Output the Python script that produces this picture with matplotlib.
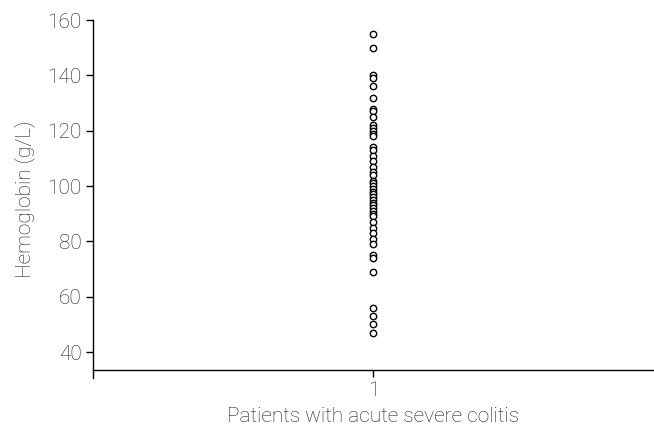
import numpy as np
import matplotlib
matplotlib.use('Agg')
import matplotlib.pyplot as plt

plt.rcParams['font.family'] = ['Roboto', 'DejaVu Sans']

# Hemoglobin values (g/L), one group
hemoglobin = [155, 150, 140, 139, 136, 132, 128, 127, 125, 122, 121, 120, 119, 118,
              114, 113, 111, 109, 107, 105, 104, 102, 101, 100, 99, 98, 97, 96, 95,
              94, 93, 92, 91, 90, 89, 87, 85, 83, 81, 79, 75, 74, 69, 56, 53, 50, 47]
group = 1
y_ticks = [40, 60, 80, 100, 120, 140, 160]

txt = '#1e1e1e'
fs = 15

fig = plt.figure(figsize=(6.54, 4.37), dpi=100)
ax = fig.add_axes([0.142, 0.135, 0.858, 0.819])

ax.plot([group] * len(hemoglobin), hemoglobin, linestyle='none', marker='o',
        markersize=4.6, markerfacecolor='white', markeredgecolor='black',
        markeredgewidth=1.0)

ax.set_xlim(0.5, 1.5)
ax.set_ylim(30.6, 160)
ax.set_xticks([group])
ax.set_xticklabels(['1'])
ax.set_yticks(y_ticks)

ax.spines['top'].set_visible(False)
ax.spines['right'].set_visible(False)
ax.spines['bottom'].set_position(('data', 33.4))
for s in ['left', 'bottom']:
    ax.spines[s].set_linewidth(1.0)

ax.tick_params(direction='out', length=5, width=1.0, labelsize=fs,
               labelcolor=txt, pad=3)

ax.set_ylabel('Hemoglobin (g/L)', fontsize=fs, color=txt, fontweight='light', labelpad=9)
ax.set_xlabel('Patients with acute severe colitis', fontsize=fs, color=txt,
              fontweight='light', labelpad=5)
for lab in ax.get_xticklabels() + ax.get_yticklabels():
    lab.set_fontweight('light')

fig.savefig('out.png', dpi=100)
